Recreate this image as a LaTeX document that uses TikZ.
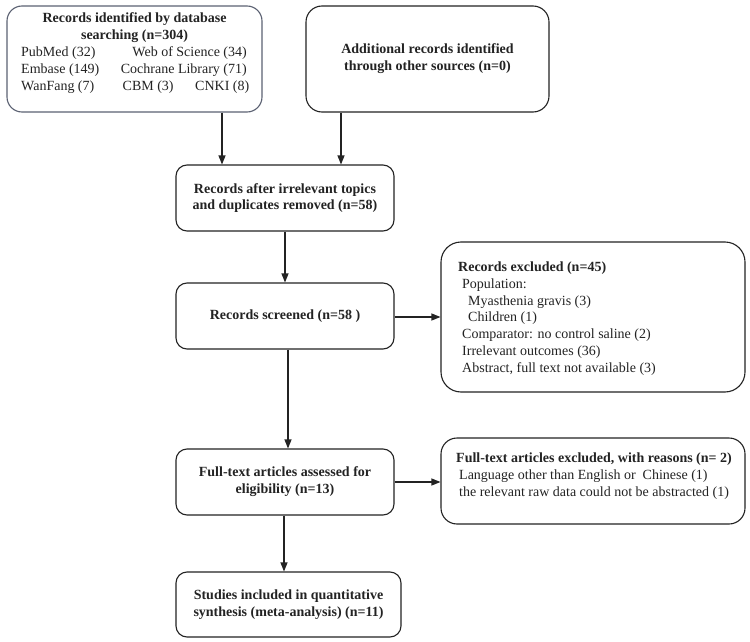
\documentclass[tikz,border=0pt]{standalone}
\usepackage{fontspec}
\setmainfont{Liberation Serif}
\usetikzlibrary{arrows.meta}
\definecolor{boxc}{HTML}{232323}
\definecolor{boxa}{HTML}{5B6172}
\begin{document}
\begin{tikzpicture}[x=1pt,y=-1pt,
  box/.style={draw=boxc, line width=1.1pt, rounded corners=11pt, inner sep=0pt},
  txt/.style={font=\fontsize{14}{16.8}\selectfont, inner sep=0pt, text=boxc},
  btxt/.style={font=\fontsize{14}{16.8}\selectfont\bfseries, align=center, inner sep=0pt, text=boxc},
  arr/.style={line width=1.1pt, draw=boxc, -{Triangle[length=9pt,width=7pt]}}]
\fill[white] (0,0) rectangle (750,642);
\useasboundingbox (0,0) rectangle (750,642);

% Box 1
\node[box, draw=boxa, rounded corners=15pt, minimum width=255pt, minimum height=106pt] (b1) at (134.5,59) {};
\node[btxt, anchor=base] (t1a) at (134.5,22.5) {Records identified by database};
\node[btxt, anchor=base] (t1b) at (134.5,39.5) {searching (n=304)};
\node[txt, anchor=base west] (s1) at (21,56.5) {PubMed (32)};
\node[txt, anchor=base east] (s2) at (247,56.5) {Web of Science (34)};
\node[txt, anchor=base west] (s3) at (21,73.5) {Embase (149)};
\node[txt, anchor=base east] (s4) at (247,73.5) {Cochrane Library (71)};
\node[txt, anchor=base west] (s5) at (21,90.5) {WanFang (7)};
\node[txt, anchor=base west] (s6) at (122.5,90.5) {CBM (3)};
\node[txt, anchor=base west] (s7) at (195,90.5) {CNKI (8)};

% Box 2
\node[box, btxt, rounded corners=16pt, minimum width=243pt, minimum height=106pt] (b2) at (427.5,59) {Additional records identified\\through other sources (n=0)};

% Box 3
\node[box, btxt, minimum width=218pt, minimum height=66pt] (b3) at (285,198) {Records after irrelevant topics\\and duplicates removed (n=58)};

% Box 4
\node[box, btxt, minimum width=218pt, minimum height=66pt] (b4) at (285,316) {Records screened (n=58 )};

% Box 5
\node[box, rounded corners=20pt, minimum width=304pt, minimum height=150pt] (b5) at (593,317) {};
\node[txt, font=\fontsize{14}{16.8}\selectfont\bfseries, anchor=base west] (e1) at (458,271.5) {Records excluded (n=45)};
\node[txt, anchor=base west] (e2) at (462,288.3) {Population:};
\node[txt, anchor=base west] (e3) at (468,305.1) {Myasthenia gravis (3)};
\node[txt, anchor=base west] (e4) at (468,321.9) {Children (1)};
\node[txt, anchor=base west] (e5) at (462,338.7) {Comparator: no control saline (2)};
\node[txt, anchor=base west] (e6) at (462,355.5) {Irrelevant outcomes (36)};
\node[txt, anchor=base west] (e7) at (462,372.3) {Abstract, full text not available (3)};

% Box 6
\node[box, btxt, minimum width=218pt, minimum height=66pt] (b6) at (285,482) {Full-text articles assessed for\\eligibility (n=13)};

% Box 7
\node[box, rounded corners=16pt, minimum width=304pt, minimum height=86pt] (b7) at (593,481) {};
\node[txt, font=\fontsize{14}{16.8}\selectfont\bfseries, anchor=base west] (f1) at (456,462.5) {Full-text articles excluded, with reasons (n= 2)};
\node[txt, anchor=base west] (f2) at (459,479.3) {Language other than English or \ Chinese (1)};
\node[txt, anchor=base west] (f3) at (459,496.1) {the relevant raw data could not be abstracted (1)};

% Box 8
\node[box, btxt, minimum width=225pt, minimum height=65pt] (b8) at (288.5,604.5) {Studies included in quantitative\\synthesis (meta-analysis) (n=11)};

% Arrows
\draw[arr] (b1.south -| 222,0) -- (b3.north -| 222,0);
\draw[arr] (b2.south -| 341,0) -- (b3.north -| 341,0);
\draw[arr] (b3.south -| 285,0) -- (b4.north -| 285,0);
\draw[arr] (b4.east |- 0,317) -- (b5.west |- 0,317);
\draw[arr] (b4.south -| 288,0) -- (b6.north -| 288,0);
\draw[arr] (b6.east |- 0,482) -- (b7.west |- 0,482);
\draw[arr] (b6.south -| 284,0) -- (b8.north -| 284,0);
\end{tikzpicture}
\end{document}
